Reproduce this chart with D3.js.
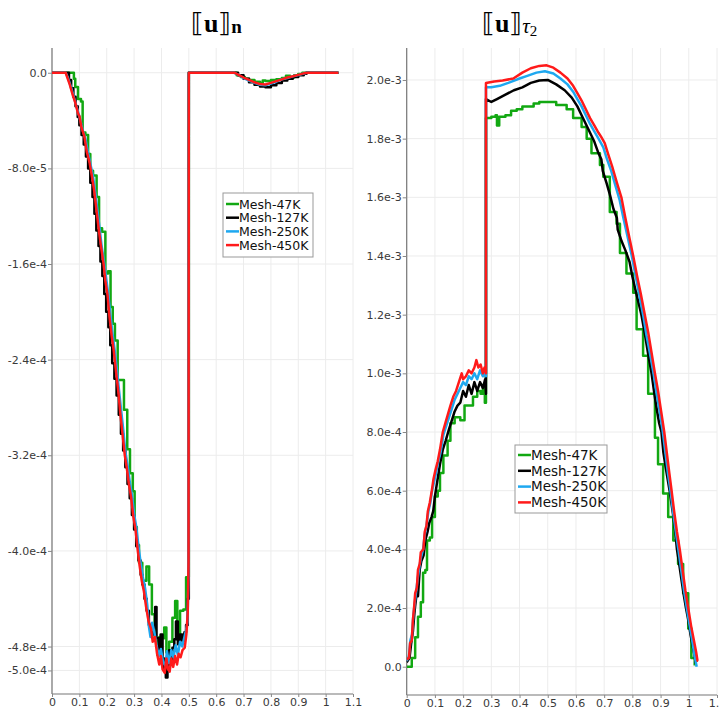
<!DOCTYPE html>
<html><head><meta charset="utf-8">
<script src="https://cdn.jsdelivr.net/npm/d3@7"></script>
<style>
body{margin:0;background:#fff;}
svg{display:block;}
</style></head>
<body>
<svg id="chart" width="720" height="713"></svg>
<script>
// ---------- DATA ----------
const seriesNames = ["Mesh-47K", "Mesh-127K", "Mesh-250K", "Mesh-450K"];
const seriesColors = ["#12a812", "#000000", "#1ea8f0", "#ff1a1a"];

const xTickValues = [0, 0.1, 0.2, 0.3, 0.4, 0.5, 0.6, 0.7, 0.8, 0.9, 1.0, 1.1];
const xTickLabels = ["0", "0.1", "0.2", "0.3", "0.4", "0.5", "0.6", "0.7", "0.8", "0.9", "1", "1.1"];

// left panel: [[u]]_n, values in units of 1e-5
const leftYTickValues = [0, -8, -16, -24, -32, -40, -48, -50];
const leftYTickLabels = ["0.0", "-8.0e-5", "-1.6e-4", "-2.4e-4", "-3.2e-4", "-4.0e-4", "-4.8e-4", "-5.0e-4"];

const n47 = [[0,0],[0.065,0],[0.08,-0.5],[0.085,-1.2],[0.095,-2.2],[0.106,-2.4],[0.112,-5],[0.122,-5.2],[0.132,-6.8],[0.14,-8.2],[0.15,-8.6],[0.163,-10.4],[0.172,-13],[0.183,-13.3],[0.195,-16.8],[0.205,-16.6],[0.214,-19.6],[0.222,-21],[0.23,-22.4],[0.24,-25.7],[0.252,-25.7],[0.263,-28.2],[0.275,-31.5],[0.285,-33.5],[0.295,-35],[0.302,-38],[0.31,-39.5],[0.318,-41],[0.33,-42.5],[0.345,-41.3],[0.355,-42.8],[0.365,-45.3],[0.375,-47.5],[0.385,-48.7],[0.392,-47.2],[0.4,-47.3],[0.41,-46.4],[0.418,-48.5],[0.428,-47.6],[0.44,-45.6],[0.45,-44.2],[0.458,-47.4],[0.468,-45],[0.48,-44.9],[0.49,-42.2],[0.5,0],[0.665,0],[0.675,-0.2],[0.69,-0.35],[0.705,-0.5],[0.72,-0.6],[0.74,-0.75],[0.76,-0.85],[0.77,-0.65],[0.78,-0.7],[0.8,-0.6],[0.82,-0.55],[0.84,-0.45],[0.855,-0.25],[0.87,-0.4],[0.885,-0.2],[0.9,-0.1],[0.915,0],[1.047,0]];

const n127 = [[0,0],[0.055,0],[0.062,-0.6],[0.07,-1.3],[0.078,-2],[0.086,-2.8],[0.094,-3.7],[0.1,-4.4],[0.108,-5.2],[0.116,-6],[0.124,-7],[0.132,-8],[0.14,-9.2],[0.148,-10.4],[0.155,-11.8],[0.162,-13.2],[0.17,-14.5],[0.177,-15.8],[0.184,-17],[0.191,-18.5],[0.198,-20],[0.206,-21.3],[0.213,-22.8],[0.22,-24.3],[0.228,-25.6],[0.236,-27],[0.244,-28.6],[0.252,-30.2],[0.26,-31.6],[0.268,-33],[0.276,-34.4],[0.284,-35.6],[0.292,-37],[0.3,-38.2],[0.308,-39.6],[0.316,-40.8],[0.324,-42],[0.33,-42.8],[0.338,-44],[0.346,-45],[0.354,-46.2],[0.362,-47],[0.37,-46.4],[0.377,-44.7],[0.382,-47.3],[0.39,-48.2],[0.397,-47],[0.404,-49],[0.41,-49.8],[0.416,-50.6],[0.422,-49.5],[0.428,-48.3],[0.434,-49.3],[0.44,-48.1],[0.447,-47.4],[0.453,-45.9],[0.46,-47.8],[0.468,-47],[0.476,-47.5],[0.484,-46.8],[0.49,-46.2],[0.496,-44],[0.5,0],[0.665,0],[0.68,-0.2],[0.7,-0.5],[0.72,-0.8],[0.74,-1.0],[0.76,-1.15],[0.78,-1.22],[0.8,-1.05],[0.82,-0.85],[0.84,-0.65],[0.86,-0.5],[0.88,-0.35],[0.9,-0.2],[0.92,-0.08],[0.93,0],[1.047,0]];

const n250 = [[0,0],[0.05,0],[0.058,-0.4],[0.068,-1.1],[0.078,-1.9],[0.088,-2.7],[0.098,-3.5],[0.105,-4.1],[0.112,-4.8],[0.122,-5.5],[0.13,-6.5],[0.14,-7.6],[0.15,-8.7],[0.158,-10],[0.166,-11.5],[0.175,-13.2],[0.182,-14.6],[0.19,-15.8],[0.198,-17.2],[0.206,-18.6],[0.213,-20.2],[0.221,-21.8],[0.229,-23.2],[0.237,-24.8],[0.245,-26.6],[0.253,-28.3],[0.261,-30],[0.268,-31.7],[0.276,-32.8],[0.284,-34.2],[0.292,-35.3],[0.3,-36.9],[0.308,-38],[0.316,-39.6],[0.324,-41],[0.332,-42.2],[0.34,-43.1],[0.348,-44.5],[0.354,-46.3],[0.36,-47.2],[0.366,-46],[0.374,-46.8],[0.382,-47.9],[0.39,-48.8],[0.398,-48.2],[0.406,-49.3],[0.414,-49.6],[0.42,-48.4],[0.428,-49.4],[0.436,-48.3],[0.444,-48.9],[0.452,-47.9],[0.46,-48.7],[0.468,-47.6],[0.476,-48],[0.484,-47.2],[0.49,-46.6],[0.495,-46],[0.499,-42],[0.5,0],[0.665,0],[0.68,-0.15],[0.7,-0.45],[0.72,-0.65],[0.74,-0.85],[0.76,-1.0],[0.78,-1.05],[0.8,-0.9],[0.82,-0.75],[0.84,-0.55],[0.86,-0.45],[0.88,-0.3],[0.9,-0.2],[0.92,-0.06],[0.932,0],[1.047,0]];

const n450 = [[0,0],[0.05,0],[0.056,-0.4],[0.065,-1],[0.075,-1.8],[0.085,-2.5],[0.095,-3.4],[0.1,-3.6],[0.108,-4.6],[0.118,-5.3],[0.127,-6.6],[0.137,-7.5],[0.147,-8.8],[0.155,-10],[0.163,-11.6],[0.172,-13.3],[0.179,-14.5],[0.188,-15.9],[0.195,-17.4],[0.203,-18.6],[0.21,-20.4],[0.218,-22],[0.226,-23.3],[0.234,-25],[0.243,-26.8],[0.25,-28.6],[0.258,-30.3],[0.266,-32],[0.273,-33],[0.281,-34.4],[0.289,-35.5],[0.297,-37.1],[0.305,-38.2],[0.313,-39.9],[0.32,-41.2],[0.328,-42.5],[0.336,-43.4],[0.344,-44.7],[0.353,-45.9],[0.362,-46.5],[0.368,-47.6],[0.376,-47.2],[0.384,-48.6],[0.392,-49.5],[0.398,-48.8],[0.404,-49.9],[0.412,-50.2],[0.418,-49],[0.424,-49.9],[0.43,-50.1],[0.436,-49],[0.443,-49.7],[0.45,-48.8],[0.457,-49.5],[0.463,-48.6],[0.47,-48.9],[0.477,-48.3],[0.485,-48.1],[0.491,-47],[0.496,-45.2],[0.499,-41],[0.5,0],[0.667,0],[0.68,-0.15],[0.7,-0.4],[0.72,-0.6],[0.74,-0.8],[0.76,-0.95],[0.78,-0.98],[0.8,-0.85],[0.82,-0.7],[0.84,-0.55],[0.86,-0.4],[0.88,-0.3],[0.9,-0.18],[0.92,-0.05],[0.935,0],[1.047,0]];

// right panel: [[u]]_tau2, values in units of 1e-4
const rightYTickValues = [0, 2, 4, 6, 8, 10, 12, 14, 16, 18, 20];
const rightYTickLabels = ["0.0", "2.0e-4", "4.0e-4", "6.0e-4", "8.0e-4", "1.0e-3", "1.2e-3", "1.4e-3", "1.6e-3", "1.8e-3", "2.0e-3"];

const t47 = [[0,0],[0.018,0.3],[0.03,1.0],[0.04,1.7],[0.05,2.2],[0.058,3.2],[0.066,3.3],[0.072,4.3],[0.082,4.4],[0.09,5.1],[0.1,5.8],[0.11,6.0],[0.118,6.6],[0.13,7.2],[0.145,7.7],[0.155,8.3],[0.17,8.5],[0.19,8.4],[0.205,8.9],[0.22,8.9],[0.235,9.2],[0.25,9.4],[0.262,9.3],[0.27,9.6],[0.277,9.0],[0.281,9.3],[0.281,18.7],[0.3,18.75],[0.315,18.8],[0.32,18.45],[0.328,18.75],[0.35,18.8],[0.37,18.95],[0.39,19.0],[0.41,19.1],[0.43,19.1],[0.45,19.2],[0.47,19.25],[0.5,19.25],[0.53,19.15],[0.567,19.0],[0.59,18.7],[0.62,18.4],[0.638,18.0],[0.655,17.5],[0.685,17.1],[0.697,16.7],[0.72,15.5],[0.744,15.1],[0.756,14.1],[0.779,13.4],[0.803,12.75],[0.815,11.5],[0.838,10.6],[0.856,9.3],[0.88,7.8],[0.891,6.9],[0.909,5.9],[0.927,5.1],[0.945,4.3],[0.962,3.5],[0.98,2.5],[0.998,1.3],[1.009,0.3],[1.021,0.04]];

const t127 = [[0,0.15],[0.01,0.3],[0.016,0.8],[0.022,1.2],[0.028,1.9],[0.034,2.4],[0.04,2.4],[0.046,3.3],[0.052,3.6],[0.06,3.8],[0.066,4.3],[0.074,4.6],[0.08,4.9],[0.088,5.1],[0.094,5.3],[0.1,5.8],[0.108,6.3],[0.118,6.9],[0.128,7.4],[0.138,7.7],[0.15,8.1],[0.16,8.4],[0.17,8.7],[0.18,8.9],[0.19,9.0],[0.2,9.4],[0.21,9.2],[0.22,9.6],[0.23,9.3],[0.24,9.7],[0.25,9.4],[0.26,9.7],[0.27,9.5],[0.278,9.8],[0.281,9.3],[0.281,19.35],[0.3,19.25],[0.32,19.35],[0.35,19.5],[0.38,19.65],[0.41,19.75],[0.44,19.9],[0.47,19.98],[0.5,20.0],[0.53,19.85],[0.56,19.65],[0.585,19.4],[0.605,19.1],[0.62,18.8],[0.635,18.5],[0.65,18.2],[0.665,17.9],[0.68,17.5],[0.69,17.3],[0.695,16.9],[0.708,16.5],[0.72,16.1],[0.733,15.6],[0.745,15.3],[0.748,14.9],[0.762,14.5],[0.775,14.2],[0.79,13.8],[0.8,13.3],[0.812,12.8],[0.822,12.4],[0.832,12.0],[0.845,11.3],[0.857,10.6],[0.868,10.0],[0.878,9.3],[0.886,8.8],[0.895,8.3],[0.903,8.0],[0.91,7.3],[0.918,6.8],[0.925,6.4],[0.932,6.0],[0.938,5.6],[0.944,5.2],[0.951,4.7],[0.958,4.0],[0.966,3.5],[0.975,2.9],[0.983,2.4],[0.99,2.0],[0.998,1.6],[1.006,1.1],[1.014,0.7],[1.02,0.4],[1.025,0.1]];

const t250 = [[0,0.2],[0.008,0.35],[0.013,0.9],[0.019,1.1],[0.024,1.8],[0.029,2.2],[0.034,2.6],[0.039,3.0],[0.045,3.4],[0.05,3.7],[0.058,4.0],[0.064,4.5],[0.07,4.8],[0.077,5.3],[0.084,5.6],[0.09,6.0],[0.097,6.3],[0.104,6.6],[0.112,7.0],[0.12,7.3],[0.13,7.9],[0.14,8.2],[0.15,8.5],[0.16,8.8],[0.17,9.1],[0.18,9.3],[0.19,9.5],[0.2,9.7],[0.21,9.6],[0.22,9.9],[0.23,9.8],[0.24,10.0],[0.25,9.8],[0.26,10.1],[0.27,9.9],[0.278,10.1],[0.281,9.9],[0.281,19.75],[0.3,19.75],[0.33,19.8],[0.36,19.9],[0.4,20.05],[0.43,20.15],[0.46,20.25],[0.49,20.3],[0.52,20.22],[0.545,20.05],[0.57,19.85],[0.59,19.6],[0.605,19.35],[0.62,19.1],[0.635,18.8],[0.65,18.5],[0.665,18.25],[0.68,18.0],[0.697,17.7],[0.71,17.3],[0.725,16.9],[0.74,16.4],[0.755,15.9],[0.768,15.3],[0.782,14.7],[0.798,14.0],[0.81,13.4],[0.824,12.7],[0.838,12.0],[0.85,11.3],[0.862,10.7],[0.875,10.0],[0.886,9.3],[0.897,8.7],[0.908,8.0],[0.917,7.3],[0.926,6.6],[0.935,6.0],[0.944,5.3],[0.954,4.6],[0.963,4.0],[0.973,3.3],[0.983,2.6],[0.993,2.0],[1.003,1.4],[1.012,0.9],[1.02,0.4],[1.028,0]];

const t450 = [[0,0.25],[0.008,0.3],[0.012,0.8],[0.018,0.9],[0.022,1.6],[0.026,2.0],[0.03,2.5],[0.036,2.7],[0.04,3.3],[0.046,3.5],[0.05,3.9],[0.059,4.0],[0.064,4.6],[0.07,4.8],[0.075,5.3],[0.082,5.6],[0.089,6.0],[0.095,6.4],[0.102,6.7],[0.11,7.0],[0.118,7.4],[0.128,8.0],[0.137,8.3],[0.146,8.6],[0.155,8.9],[0.165,9.2],[0.175,9.4],[0.185,9.7],[0.195,10.0],[0.2,9.8],[0.21,9.9],[0.22,10.1],[0.23,10.0],[0.24,10.2],[0.247,10.45],[0.254,10.2],[0.262,10.3],[0.27,10.0],[0.276,10.2],[0.281,10.0],[0.281,19.9],[0.31,19.95],[0.34,19.98],[0.378,20.05],[0.41,20.25],[0.44,20.4],[0.47,20.48],[0.496,20.5],[0.52,20.42],[0.545,20.25],[0.57,20.05],[0.59,19.8],[0.605,19.55],[0.62,19.3],[0.635,19.0],[0.65,18.7],[0.665,18.45],[0.68,18.2],[0.69,18.05],[0.702,17.85],[0.715,17.45],[0.73,17.0],[0.745,16.5],[0.761,16.0],[0.775,15.3],[0.79,14.6],[0.803,14.0],[0.817,13.3],[0.83,12.7],[0.844,12.0],[0.856,11.4],[0.868,10.7],[0.88,10.0],[0.891,9.4],[0.902,8.7],[0.913,8.0],[0.922,7.3],[0.931,6.6],[0.939,6.0],[0.948,5.3],[0.958,4.6],[0.968,4.0],[0.978,3.3],[0.988,2.6],[0.998,2.0],[1.008,1.4],[1.018,0.9],[1.026,0.5],[1.031,0.2],[1.033,0.2]];

// ---------- DRAW ----------
const svg = d3.select("#chart");
const tickFont = "DejaVu Sans, sans-serif";

function panel(cfg) {
  const g = svg.append("g");
  const x = d3.scaleLinear().domain([0, 1.1]).range([cfg.x0, cfg.x1]);
  const y = d3.scaleLinear().domain(cfg.yDomain).range([cfg.yBottom, cfg.yTop]);

  // grid
  g.append("g").selectAll("line").data(xTickValues).join("line")
    .attr("x1", d => x(d)).attr("x2", d => x(d))
    .attr("y1", cfg.yTop).attr("y2", cfg.yBottom)
    .attr("stroke", "#ececec").attr("stroke-width", 1);
  g.append("g").selectAll("line").data(cfg.yTicks).join("line")
    .attr("x1", cfg.x0).attr("x2", cfg.x1)
    .attr("y1", d => y(d)).attr("y2", d => y(d))
    .attr("stroke", "#ececec").attr("stroke-width", 1);

  // axes
  const xAxis = d3.axisBottom(x).tickValues(xTickValues)
    .tickFormat((d, i) => xTickLabels[i]).tickSize(3).tickPadding(1);
  const gx = g.append("g").attr("transform", `translate(0,${cfg.yBottom})`).call(xAxis);
  const yAxis = d3.axisLeft(y).tickValues(cfg.yTicks)
    .tickFormat((d, i) => cfg.yLabels[i]).tickSize(4).tickPadding(1);
  const gy = g.append("g").attr("transform", `translate(${cfg.x0},0)`).call(yAxis);
  [gx, gy].forEach(a => {
    a.select(".domain").attr("stroke", "#777").attr("stroke-width", 1.2);
    a.selectAll(".tick line").attr("stroke", "#888");
    a.selectAll("text").attr("font-family", tickFont).attr("font-size", 11).attr("fill", "#3a3a3a");
  });
  gy.select(".domain").attr("d", `M0,${cfg.yTop}V${cfg.yBottom}`);
  gx.select(".domain").attr("d", `M${cfg.x0},0H${cfg.x1}`);

  // lines
  const clipId = "clip" + cfg.id;
  svg.append("clipPath").attr("id", clipId).append("rect")
    .attr("x", cfg.x0).attr("y", cfg.yTop).attr("width", cfg.x1 - cfg.x0).attr("height", cfg.yBottom - cfg.yTop);
  const lg = g.append("g").attr("clip-path", `url(#${clipId})`);
  cfg.series.forEach((s, i) => {
    const line = d3.line().x(d => x(d[0])).y(d => y(d[1]))
      .curve(cfg.curves[i]);
    lg.append("path").datum(s).attr("d", line)
      .attr("fill", "none").attr("stroke", seriesColors[i])
      .attr("stroke-width", 2.5).attr("stroke-linejoin", "round");
  });

  // legend
  const L = cfg.legend;
  const leg = g.append("g");
  leg.append("rect").attr("x", L.x).attr("y", L.y).attr("width", L.w).attr("height", L.h)
    .attr("fill", "#fff").attr("stroke", "#999").attr("stroke-width", 1);
  seriesNames.forEach((n, i) => {
    const cy = L.y + L.top + i * L.step;
    leg.append("line").attr("x1", L.x + 3).attr("x2", L.x + 16).attr("y1", cy).attr("y2", cy)
      .attr("stroke", seriesColors[i]).attr("stroke-width", 2.5);
    leg.append("text").attr("x", L.x + 16).attr("y", cy).attr("dy", "0.36em")
      .attr("font-family", tickFont).attr("font-size", L.fs).attr("fill", "#111").text(n);
  });
}

panel({
  id: "L", x0: 52, x1: 353, yTop: 48, yBottom: 694, yDomain: [-51.97, 2.07],
  yTicks: leftYTickValues, yLabels: leftYTickLabels,
  series: [n47, n127, n250, n450],
  curves: [d3.curveStepAfter, d3.curveStepAfter, d3.curveLinear, d3.curveLinear],
  legend: {x: 223, y: 193, w: 90, h: 64, top: 11, step: 13.7, fs: 12.5}
});
panel({
  id: "R", x0: 406.7, x1: 717, yTop: 48, yBottom: 695, yDomain: [-0.965, 21.09],
  yTicks: rightYTickValues, yLabels: rightYTickLabels,
  series: [t47, t127, t250, t450],
  curves: [d3.curveStepAfter, d3.curveLinear, d3.curveLinear, d3.curveLinear],
  legend: {x: 515, y: 445, w: 92, h: 68, top: 10, step: 15.8, fs: 13.5}
});

// titles
const serif = "Liberation Serif, DejaVu Serif, serif";
const bracketFont = "DejaVu Serif, DejaVu Sans, serif";
function title(x0, sub) {
  const t = svg.append("text").attr("x", x0).attr("y", 32).attr("font-family", serif)
    .attr("font-size", 26).attr("fill", "#000").attr("stroke", "none");
  t.append("tspan").attr("font-family", bracketFont).attr("fill", "#000").attr("font-weight", "normal").text("⟦");
  t.append("tspan").attr("font-weight", "bold").text("u");
  t.append("tspan").attr("font-family", bracketFont).attr("fill", "#000").attr("font-weight", "normal").text("⟧");
  sub(t);
}
title(191, t => t.append("tspan").attr("font-weight", "bold").attr("font-size", 19).attr("dy", 1).text("n"));
title(482, t => {
  t.append("tspan").attr("font-style", "italic").attr("font-size", 21).attr("dy", 1).text("τ");
  t.append("tspan").attr("font-size", 15).attr("dy", 3).text("2");
});
</script>
</body></html>
